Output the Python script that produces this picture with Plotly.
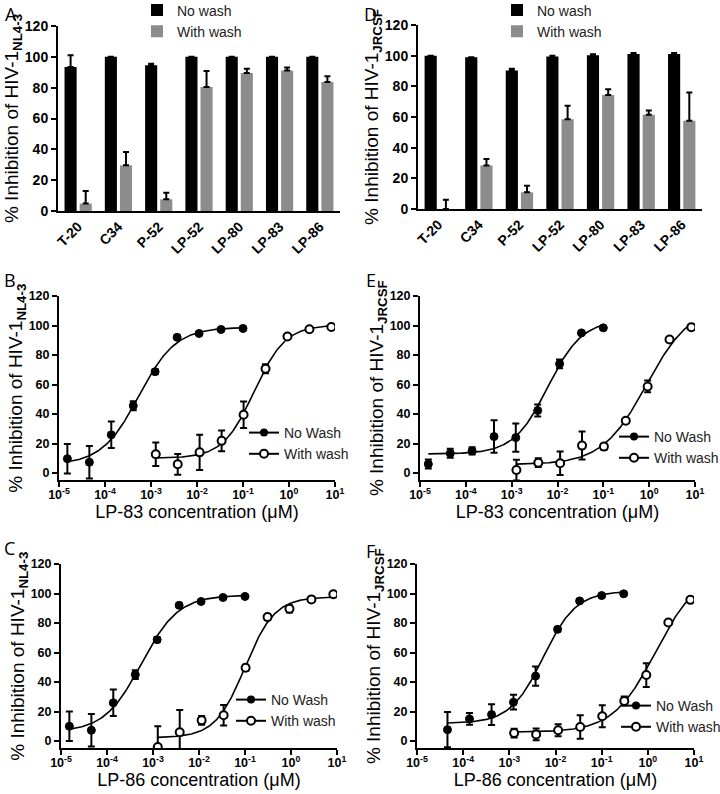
import numpy as np
import plotly.graph_objects as go

# ---------------- data ----------------
categories = ["T-20", "C34", "P-52", "LP-52", "LP-80", "LP-83", "LP-86"]

A_nowash = [93.4, 100, 94.5, 100, 100, 100, 100]
A_nowash_err = [7.6, 0, 1.0, 0, 0, 0, 0]
A_wash = [4.8, 29.6, 7.6, 80.4, 89.5, 91.2, 83.7]
A_wash_err = [8.2, 8.7, 4.3, 10.4, 2.8, 1.8, 3.7]

D_nowash = [100, 99, 90.3, 99.4, 100.3, 101.1, 101.1]
D_nowash_err = [0, 0, 1.1, 0.6, 0.6, 0.6, 0.6]
D_wash = [0, 28.4, 10.9, 58.6, 74.4, 61.4, 57.5]
D_wash_err = [6, 4.2, 4.3, 8.7, 3.7, 2.8, 18.5]

# concentrations (uM)
conc_nw = [1.52e-5, 4.57e-5, 1.37e-4, 4.12e-4, 1.23e-3, 3.7e-3, 0.0111, 0.0333, 0.1]
conc_ww = [0.00127, 0.00381, 0.0114, 0.0343, 0.103, 0.309, 0.926, 2.78, 8.33]
conc_nw_F = [4.57e-5, 1.37e-4, 4.12e-4, 1.23e-3, 3.7e-3, 0.0111, 0.0333, 0.1, 0.3]

B_nw_y = [9.7, 7.3, 25.9, 45.6, 68.7, 92, 94.6, 97.3, 98]
B_nw_err = [10, 11, 9, 3, 1.5, 1, 1, 1, 1]
B_ww_y = [12.7, 5.9, 14, 21.8, 39.5, 70.7, 92.5, 97.5, 99]
B_ww_err = [8, 7, 12, 7, 9, 3, 1.5, 1, 1]

E_nw_y = [6.1, 13.4, 15, 24.7, 24, 42.4, 74, 95, 98.4]
E_nw_err = [3, 3, 2.5, 11, 9.5, 4, 3, 1, 1]
E_ww_y = [2, 7, 6.6, 18.6, 17.9, 35.4, 58.7, 90.5, 98.9]
E_ww_err = [7, 3, 8, 9.5, 2, 1.5, 4, 1.5, 1.5]

C_nw_y = [10, 7.3, 25.9, 45, 68.7, 92, 94.6, 97.3, 98]
C_nw_err = [10, 11, 9, 3, 1.5, 1, 1, 1, 1]
C_ww_y = [-4, 6, 14, 17.5, 49.7, 84, 89.6, 96, 99.5]
C_ww_err = [14, 15, 3, 7, 2, 2, 2.5, 1, 1]

F_nw_y = [7.7, 15, 17.9, 26.3, 44, 75.7, 95, 98.6, 99.8]
F_nw_err = [12, 4, 7, 5, 6.5, 1.5, 1, 1, 1]
F_ww_y = [5.4, 4.5, 7.3, 9.5, 16.8, 27.2, 44.7, 80.3, 95.7]
F_ww_err = [3, 4, 4, 8, 7.5, 3, 8, 1.5, 1]

log_tickvals = [1e-5, 1e-4, 1e-3, 1e-2, 1e-1, 1, 10]
log_ticktext = ["10<sup>-5</sup>", "10<sup>-4</sup>", "10<sup>-3</sup>", "10<sup>-2</sup>",
                "10<sup>-1</sup>", "10<sup>0</sup>", "10<sup>1</sup>"]
y_ticks = [0, 20, 40, 60, 80, 100, 120]

# ---------------- helpers ----------------
W, H = 720, 794
FONT = "Arial, Liberation Sans, sans-serif"


def fx(p):
    return p / W


def fy(p):
    return 1 - p / H


def fit_4pl(x, y):
    lx = np.log10(np.asarray(x, float))
    y = np.asarray(y, float)
    L = np.linspace(lx.min(), lx.max(), 301)
    Hh = np.linspace(0.5, 3.0, 126)
    LL, HH = np.meshgrid(L, Hh, indexing="ij")
    f = 1.0 / (1.0 + 10 ** ((LL[..., None] - lx) * HH[..., None]))
    a = 1 - f
    b = f
    saa = (a * a).sum(-1); sab = (a * b).sum(-1); sbb = (b * b).sum(-1)
    say = (a * y).sum(-1); sby = (b * y).sum(-1)
    det = saa * sbb - sab ** 2
    bot = (say * sbb - sby * sab) / det
    top = (saa * sby - sab * say) / det
    sse = ((bot[..., None] * a + top[..., None] * b - y) ** 2).sum(-1)
    i = np.unravel_index(np.nanargmin(sse), sse.shape)
    return bot[i], top[i], LL[i], HH[i]


def curve(x, y):
    bot, top, lec, h = fit_4pl(x, y)
    lx = np.log10(np.asarray(x, float))
    xs = np.logspace(lx.min(), lx.max(), 200)
    ys = bot + (top - bot) / (1 + 10 ** ((lec - np.log10(xs)) * h))
    return xs, ys


fig = go.Figure()

# ---------------- bar panels ----------------
bar_panels = [
    ("x", "y", "legend", A_nowash, A_nowash_err, A_wash, A_wash_err),
    ("x2", "y2", "legend2", D_nowash, D_nowash_err, D_wash, D_wash_err),
]
for xa, ya, lg, nw, nwe, ww, wwe in bar_panels:
    fig.add_trace(go.Bar(
        x=categories, y=nw, name="No wash", marker=dict(color="#000000", line=dict(width=0)),
        error_y=dict(type="data", array=nwe, arrayminus=[0] * len(nwe), symmetric=False,
                     color="#000000", thickness=2, width=3),
        xaxis=xa, yaxis=ya, legend=lg))
    fig.add_trace(go.Bar(
        x=categories, y=ww, name="With wash", marker=dict(color="#8c8c8c", line=dict(width=0)),
        error_y=dict(type="data", array=wwe, arrayminus=[0] * len(wwe), symmetric=False,
                     color="#000000", thickness=2, width=3),
        xaxis=xa, yaxis=ya, legend=lg))

# ---------------- dose-response panels ----------------
dr_panels = [
    ("x3", "y3", "legend3", conc_nw, B_nw_y, B_nw_err, conc_ww, B_ww_y, B_ww_err),
    ("x4", "y4", "legend4", conc_nw, E_nw_y, E_nw_err, conc_ww, E_ww_y, E_ww_err),
    ("x5", "y5", "legend5", conc_nw, C_nw_y, C_nw_err, conc_ww, C_ww_y, C_ww_err),
    ("x6", "y6", "legend6", conc_nw_F, F_nw_y, F_nw_err, conc_ww, F_ww_y, F_ww_err),
]
for xa, ya, lg, xn, yn, en, xw, yw, ew in dr_panels:
    for xs_, ys_ in (curve(xn, yn), curve(xw, yw)):
        fig.add_trace(go.Scatter(x=xs_, y=ys_, mode="lines", line=dict(color="black", width=1.6),
                                 showlegend=False, hoverinfo="skip", xaxis=xa, yaxis=ya))
    fig.add_trace(go.Scatter(
        x=xn, y=yn, mode="markers", showlegend=False,
        marker=dict(symbol="circle", size=8, color="black", line=dict(color="black", width=1)),
        error_y=dict(type="data", array=en, color="black", thickness=2, width=3.5),
        xaxis=xa, yaxis=ya))
    fig.add_trace(go.Scatter(
        x=xw, y=yw, mode="markers", showlegend=False,
        marker=dict(symbol="circle", size=8, color="white", line=dict(color="black", width=2)),
        error_y=dict(type="data", array=ew, color="black", thickness=2, width=3.5),
        xaxis=xa, yaxis=ya))
    # legend entries
    fig.add_trace(go.Scatter(x=[None], y=[None], mode="lines+markers", name="No Wash",
                             line=dict(color="black", width=2),
                             marker=dict(symbol="circle", size=8, color="black"),
                             xaxis=xa, yaxis=ya, legend=lg))
    fig.add_trace(go.Scatter(x=[None], y=[None], mode="lines+markers", name="With wash",
                             line=dict(color="black", width=2),
                             marker=dict(symbol="circle", size=8, color="white",
                                         line=dict(color="black", width=2)),
                             xaxis=xa, yaxis=ya, legend=lg))

# ---------------- axes ----------------
common = dict(showline=True, linecolor="black", linewidth=2, showgrid=False, zeroline=False,
              ticks="outside", ticklen=5, tickwidth=2, tickcolor="black", automargin=False)
bold14 = dict(family=FONT, size=14, color="black", weight="bold")
bold12 = dict(family=FONT, size=12.5, color="black", weight="bold")

sub_nl = "% Inhibition of HIV-1<sub><b>NL4-3</b></sub>"
sub_jr = "% Inhibition of HIV-1<sub><b>JRCSF</b></sub>"
ytitle_font = dict(family=FONT, size=19, color="black")
xtitle_font = dict(family=FONT, size=18, color="black")

layout_axes = {}
# A, D bar panels
for idx, (xr, yr, ttl) in zip([1, 2], [((58, 340), (26, 211), sub_nl), ((418, 702), (25, 209), sub_jr)]):
    sx = "" if idx == 1 else str(idx)
    layout_axes["xaxis" + sx] = dict(common, domain=[fx(xr[0]), fx(xr[1])], anchor="y" + sx,
                                     type="category", tickangle=-45, ticks="", tickfont=bold14)
    layout_axes["yaxis" + sx] = dict(common, domain=[fy(yr[1]), fy(yr[0])], anchor="x" + sx,
                                     range=[0, 120], tickvals=y_ticks, tickfont=bold14,
                                     title=dict(text=ttl, font=ytitle_font, standoff=0))

dr_geom = [
    (3, (59, 335), (296, 480.4), sub_nl, "LP-83 concentration (μM)"),
    (4, (420, 695), (296, 480.4), sub_jr, "LP-83 concentration (μM)"),
    (5, (61, 337), (564, 748.4), sub_nl, "LP-86 concentration (μM)"),
    (6, (417, 694), (564, 748.4), sub_jr, "LP-86 concentration (μM)"),
]
for idx, xr, yr, ttl, xttl in dr_geom:
    sx = str(idx)
    layout_axes["xaxis" + sx] = dict(common, domain=[fx(xr[0]), fx(xr[1])], anchor="y" + sx,
                                     type="log", range=[-5, 1], tickvals=log_tickvals,
                                     ticktext=log_ticktext, tickfont=bold12,
                                     ticklabelstandoff=-3,
                                     title=dict(text=xttl, font=xtitle_font, standoff=0))
    layout_axes["yaxis" + sx] = dict(common, domain=[fy(yr[1]), fy(yr[0])], anchor="x" + sx,
                                     range=[-5, 120], tickvals=y_ticks, tickfont=bold12,
                                     title=dict(text=ttl, font=ytitle_font, standoff=0))

# ---------------- legends ----------------
leg_common = dict(bgcolor="rgba(0,0,0,0)", borderwidth=0, xanchor="left", yanchor="top",
                  font=dict(family=FONT, size=14, color="#222222"), itemwidth=30,
                  tracegroupgap=0)
legends = {
    "legend": dict(leg_common, x=fx(137), y=fy(-5.5)),
    "legend2": dict(leg_common, x=fx(497), y=fy(-5.5)),
    "legend3": dict(leg_common, x=fx(244), y=fy(417)),
    "legend4": dict(leg_common, x=fx(614), y=fy(421)),
    "legend5": dict(leg_common, x=fx(231), y=fy(684)),
    "legend6": dict(leg_common, x=fx(616), y=fy(690)),
}

# ---------------- panel letters ----------------
letters = [("A", 3, 0), ("D", 362, 0), ("B", 2, 266), ("E", 364, 266), ("C", 2, 534), ("F", 364, 537)]
annotations = [dict(text=t, x=fx(px), y=fy(py), xref="paper", yref="paper", xanchor="left",
                    yanchor="top", showarrow=False,
                    font=dict(family="Open Sans, sans-serif", size=18, color="black"))
               for t, px, py in letters]

fig.update_layout(
    width=W, height=H, margin=dict(l=0, r=0, t=0, b=0, autoexpand=False),
    paper_bgcolor="white", plot_bgcolor="white",
    barmode="group", bargap=0.25, bargroupgap=0.2,
    annotations=annotations,
    **layout_axes, **legends,
)

fig.write_html("out.html", config={"displayModeBar": False},
               post_script="document.body.style.margin='0px';")
